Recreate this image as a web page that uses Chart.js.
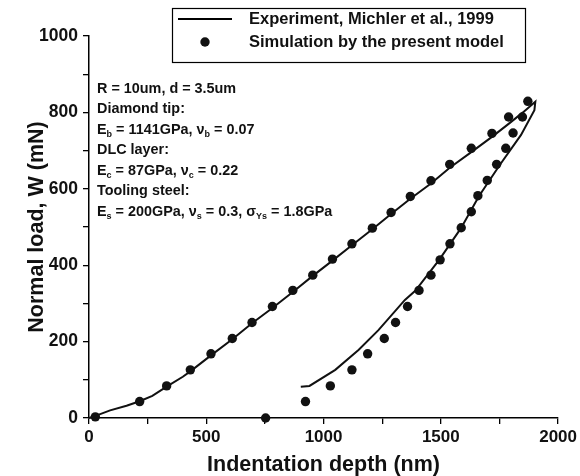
<!DOCTYPE html>
<html>
<head>
<meta charset="utf-8">
<script src="https://cdn.jsdelivr.net/npm/chart.js@4"></script>
<style>
  html, body { margin: 0; padding: 0; background: #fff; }
  #wrap { width: 580px; height: 476px; }
</style>
</head>
<body>
<div id="wrap"><canvas id="chartCarga" width="580" height="476"></canvas></div>
<script>
// Experimento (línea continua): carga y descarga
const expCargaX = [0, 25, 90, 160, 216, 270, 331, 400, 432, 520, 611, 695, 782, 869, 954, 1038, 1121, 1208, 1288, 1370, 1458, 1538, 1630, 1718, 1789, 1850, 1903];
const expCargaY = [0, 5, 20, 32, 44, 58, 82, 108, 122, 164, 206, 248, 288, 330, 372, 412, 452, 494, 534, 574, 614, 655, 696, 736, 770, 800, 828];
const expDescargaX = [1899, 1842, 1752, 1663, 1586, 1493, 1391, 1347, 1234, 1149, 1050, 940, 903];
const expDescargaY = [806, 741, 663, 581, 497, 414, 333, 309, 230, 178, 126, 84, 82];

// Simulación (puntos)
const simCargaX = [27, 216, 331, 432, 520, 611, 695, 782, 869, 954, 1038, 1121, 1208, 1288, 1370, 1458, 1538, 1630, 1718, 1789, 1871];
const simCargaY = [3, 43, 84, 126, 168, 208, 250, 292, 334, 374, 416, 456, 497, 538, 580, 621, 664, 706, 745, 788, 829];
const simDescargaX = [1848, 1808, 1777, 1738, 1698, 1658, 1630, 1587, 1539, 1497, 1458, 1407, 1358, 1307, 1259, 1188, 1121, 1029, 923, 753];
const simDescargaY = [788, 746, 706, 664, 622, 582, 540, 498, 456, 414, 374, 334, 292, 250, 208, 168, 126, 84, 43, 0];

const ticksX = [0, 500, 1000, 1500, 2000];
const ticksY = [0, 200, 400, 600, 800, 1000];

const notas = [
  "R = 10um, d = 3.5um",
  "Diamond tip:",
  "E_b = 1141GPa, \u03bd_b = 0.07",
  "DLC layer:",
  "E_c = 87GPa, \u03bd_c = 0.22",
  "Tooling steel:",
  "E_s = 200GPa, \u03bd_s = 0.3, \u03c3_Ys = 1.8GPa"
];

const FUENTE = "'Liberation Sans', Arial, sans-serif";

function puntos(xs, ys) {
  return xs.map((x, i) => ({ x: x, y: ys[i] }));
}

const expPts = puntos(expCargaX, expCargaY).concat(puntos(expDescargaX, expDescargaY));
const simPts = puntos(simCargaX, simCargaY).concat(puntos(simDescargaX, simDescargaY));

// Leyenda con recuadro y texto de parámetros
const extras = {
  id: "extras",
  afterDatasetsDraw(chart) {
    const ctx = chart.ctx;
    ctx.save();
    // recuadro de la leyenda
    ctx.strokeStyle = "#000";
    ctx.lineWidth = 1.2;
    ctx.strokeRect(172.5, 8.5, 353, 54);
    const ds = chart.data.datasets;
    ctx.fillStyle = "#111";
    ctx.font = "bold 16.5px " + FUENTE;
    ctx.textBaseline = "middle";
    ctx.beginPath();
    ctx.moveTo(178, 19);
    ctx.lineTo(232, 19);
    ctx.lineWidth = 2;
    ctx.stroke();
    ctx.fillText(ds[0].label, 249, 19);
    ctx.beginPath();
    ctx.arc(205, 42, 4.7, 0, Math.PI * 2);
    ctx.fill();
    ctx.fillText(ds[1].label, 249, 42);

    // texto de parámetros con subíndices
    let y = 89;
    notas.forEach(linea => {
      let x = 97;
      const partes = linea.split(/(_[A-Za-z]+)/);
      partes.forEach(p => {
        if (!p) return;
        if (p[0] === "_") {
          ctx.font = "bold 9px " + FUENTE;
          ctx.fillText(p.slice(1), x, y + 5);
          x += ctx.measureText(p.slice(1)).width;
        } else {
          ctx.font = "bold 14.4px " + FUENTE;
          ctx.fillText(p, x, y);
          x += ctx.measureText(p).width;
        }
      });
      y += 20.5;
    });
    ctx.restore();
  }
};

document.addEventListener("DOMContentLoaded", function () {
  const ctx = document.getElementById("chartCarga").getContext("2d");
  new Chart(ctx, {
    type: "scatter",
    data: {
      datasets: [{
        label: "Experiment, Michler et al., 1999",
        data: expPts,
        showLine: true,
        borderColor: "#111",
        borderWidth: 2,
        pointRadius: 0,
        tension: 0,
        clip: false,
        order: 2
      }, {
        label: "Simulation by the present model",
        data: simPts,
        showLine: false,
        pointRadius: 4.7,
        pointBackgroundColor: "#111",
        pointBorderWidth: 0,
        clip: false,
        order: 1
      }]
    },
    options: {
      responsive: false,
      animation: false,
      layout: { padding: { left: 0, top: 36, right: 19.5, bottom: 0 } },
      plugins: {
        legend: { display: false },
        tooltip: { enabled: false }
      },
      scales: {
        x: {
          type: "linear",
          min: 0,
          max: 2000,
          afterFit: s => { s.height = 58; },
          ticks: {
            stepSize: 250,
            autoSkip: false,
            maxRotation: 0,
            color: "#111",
            padding: 3,
            font: { family: FUENTE, size: 17, weight: "bold" },
            callback: v => ticksX.includes(v) ? v : ""
          },
          grid: { drawOnChartArea: false, tickLength: 6, tickColor: "#000", lineWidth: 1.3 },
          border: { display: true, color: "#000", width: 1.5 },
          title: {
            display: true,
            text: "Indentation depth (nm)",
            color: "#111",
            padding: { top: 0, bottom: 0 },
            font: { family: FUENTE, size: 21.5, weight: "bold", lineHeight: 1.05 }
          }
        },
        y: {
          min: 0,
          max: 1000,
          afterFit: s => { s.width = 89; },
          ticks: {
            stepSize: 100,
            autoSkip: false,
            color: "#111",
            padding: 5,
            font: { family: FUENTE, size: 17.5, weight: "bold" },
            callback: v => ticksY.includes(v) ? v : ""
          },
          grid: { drawOnChartArea: false, tickLength: 6, tickColor: "#000", lineWidth: 1.3 },
          border: { display: true, color: "#000", width: 1.5 },
          title: {
            display: true,
            text: "Normal load, W (mN)",
            color: "#111",
            padding: { top: 26, bottom: 0 },
            font: { family: FUENTE, size: 21.5, weight: "bold", lineHeight: 1.05 }
          }
        }
      }
    },
    plugins: [extras]
  });
});
</script>
</body>
</html>
